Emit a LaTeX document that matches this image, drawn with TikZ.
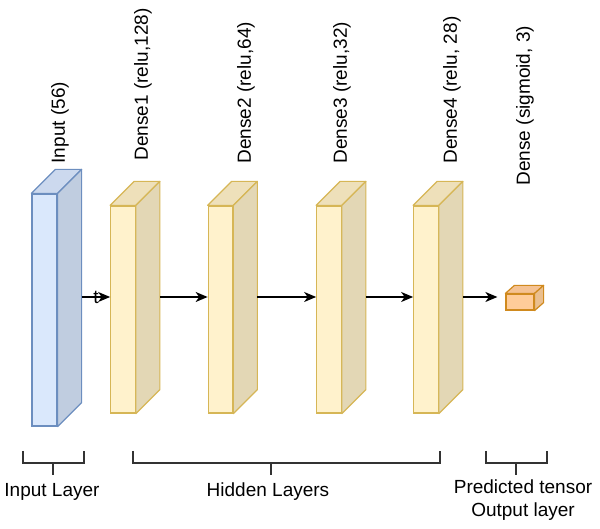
\documentclass[tikz,border=0pt]{standalone}
\usepackage{fontspec}
\setmainfont{Liberation Sans}
\usetikzlibrary{arrows.meta,calc}

\definecolor{inFill}{HTML}{DAE8FC}
\definecolor{inLine}{HTML}{6C8EBF}
\definecolor{inTop}{HTML}{CCD9EE}
\definecolor{inSide}{HTML}{C0CDE0}
\definecolor{hidFill}{HTML}{FFF2CC}
\definecolor{hidLine}{HTML}{D6B656}
\definecolor{hidTop}{HTML}{EEE0BA}
\definecolor{hidSide}{HTML}{E3D7B5}
\definecolor{outFill}{HTML}{FFCC99}
\definecolor{outLine}{HTML}{D08A1E}
\definecolor{outTop}{HTML}{F5C293}
\definecolor{outSide}{HTML}{EABF8F}

% top and side faces of a box drawn from its front node
\newcommand{\cubefaces}[5]{%
  \filldraw[draw=#3,fill=#4,line join=round] (#1.north west) -- ++(#2) -- ($(#1.north east)+(#2)$) -- (#1.north east) -- cycle;
  \filldraw[draw=#3,fill=#5,line join=round] (#1.north east) -- ++(#2) -- ($(#1.south east)+(#2)$) -- (#1.south east) -- cycle;
  \coordinate (#1-r) at ($(#1.east)+(#2)$);
}

\begin{document}
\begin{tikzpicture}[x=1pt,y=1pt,line width=1.2pt,font=\fontsize{19}{23}\selectfont,
    inbox/.style={draw=inLine,fill=inFill,minimum width=25,minimum height=232,inner sep=0},
    hidbox/.style={draw=hidLine,fill=hidFill,minimum width=24.5,minimum height=207,inner sep=0},
    outbox/.style={draw=outLine,fill=outFill,minimum width=28,minimum height=16,inner sep=0},
    lbl/.style={rotate=90,anchor=west,inner sep=0},
    arr/.style={-{Stealth[length=12pt,width=10pt,inset=3.5pt]},line width=1.3pt},
    brk/.style={line width=1.3pt,black!80}]
    \useasboundingbox (0,0) rectangle (600,529);
    \coordinate (lvl) at (0,232);

    \node[inbox] (in) at (44.5,219) {};
    \cubefaces{in}{24,24}{inLine}{inTop}{inSide}
    \foreach \i/\x in {1/123,2/220.5,3/329,4/426} {
        \node[hidbox] (d\i) at (\x,219.5) {};
        \cubefaces{d\i}{24,24}{hidLine}{hidTop}{hidSide}
    }
    \node[outbox] (out) at (520,227) {};
    \cubefaces{out}{9,8}{outLine}{outTop}{outSide}

    % layer names
    \node[lbl] (lin) at (60,365) {Input (56)};
    \node[lbl] (ld1) at (143,368) {Dense1 (relu,128)};
    \node[lbl] (ld2) at (246,365) {Dense2 (relu,64)};
    \node[lbl] (ld3) at (342,365) {Dense3 (relu,32)};
    \node[lbl] (ld4) at (452,365) {Dense4 (relu, 28)};
    \node[lbl] (lout) at (525,343) {Dense (sigmoid, 3)};

    % connections
    \draw[arr] (in-r |- lvl) -- (d1.west |- lvl);
    \node[inner sep=0] (t) at (96,232) {t};
    \draw[arr] (d1-r |- lvl) -- (d2.west |- lvl);
    \draw[arr] (d2-r |- lvl) -- (d3.west |- lvl);
    \draw[arr] (d3-r |- lvl) -- (d4.west |- lvl);
    \draw[arr,shorten >=8pt] (d4-r |- lvl) -- (out.west |- lvl);

    % groups
    \draw[brk] (23,78) |- (84,66) -- (84,78);
    \draw[brk] (53,66) -- (53,54);
    \draw[brk] (133,78) |- (440,66) -- (440,78);
    \draw[brk] (271,66) -- (271,54);
    \draw[brk] (486,78) |- (547,66) -- (547,78);
    \draw[brk] (516,66) -- (516,54);
    \node (gin) at (52,37) {Input Layer};
    \node (ghid) at (268,37) {Hidden Layers};
    \node[align=center] (gout) at (523,28.5) {Predicted tensor\\Output layer};
\end{tikzpicture}
\end{document}
